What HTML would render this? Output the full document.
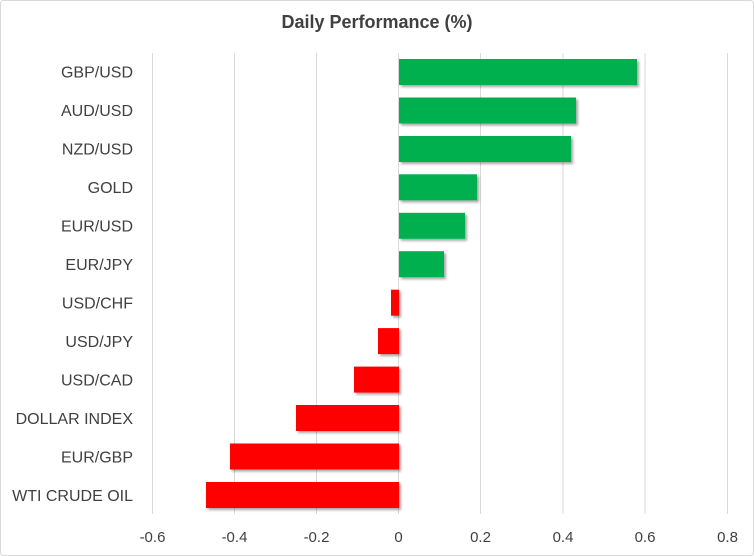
<!DOCTYPE html>
<html><head><style>
body{margin:0;background:#fff;}
svg{display:block;font-family:"Liberation Sans",sans-serif;}
</style></head><body>
<svg width="754" height="556" viewBox="0 0 754 556">
<defs><filter id="sh" x="-5%" y="-20%" width="110%" height="150%"><feDropShadow dx="2" dy="2" stdDeviation="1.2" flood-color="#000" flood-opacity="0.35"/></filter></defs>
<rect x="0.5" y="0.5" width="753" height="555" rx="3" fill="#fff" stroke="#d9d9d9"/>
<text x="377" y="28" text-anchor="middle" font-size="18" font-weight="bold" fill="#404040">Daily Performance  (%)</text>
<g stroke="#d9d9d9" stroke-width="1">
<line x1="152.5" y1="53" x2="152.5" y2="514"/><line x1="234.5" y1="53" x2="234.5" y2="514"/>
<line x1="316.5" y1="53" x2="316.5" y2="514"/><line x1="398.5" y1="53" x2="398.5" y2="514"/>
<line x1="480.5" y1="53" x2="480.5" y2="514"/><line x1="563" y1="53" x2="563" y2="514"/>
<line x1="645" y1="53" x2="645" y2="514"/><line x1="727.5" y1="53" x2="727.5" y2="514"/>
</g>
<g filter="url(#sh)">
<rect x="399" y="59" width="238" height="26" fill="#00b050"/>
<rect x="399" y="97.5" width="177" height="26" fill="#00b050"/>
<rect x="399" y="136" width="172" height="26" fill="#00b050"/>
<rect x="399" y="174.3" width="78" height="26" fill="#00b050"/>
<rect x="399" y="212.8" width="66" height="26" fill="#00b050"/>
<rect x="399" y="251.2" width="45" height="26" fill="#00b050"/>
<rect x="391" y="289.7" width="8" height="26" fill="#ff0000"/>
<rect x="378" y="328.1" width="21" height="26" fill="#ff0000"/>
<rect x="354" y="366.6" width="45" height="26" fill="#ff0000"/>
<rect x="296" y="405" width="103" height="26" fill="#ff0000"/>
<rect x="230" y="443.5" width="169" height="26" fill="#ff0000"/>
<rect x="206" y="482" width="193" height="26" fill="#ff0000"/>
</g>
<g font-size="16" fill="#404040" text-anchor="end">
<text x="133" y="77.5">GBP/USD</text><text x="133" y="116">AUD/USD</text>
<text x="133" y="154.5">NZD/USD</text><text x="133" y="193">GOLD</text>
<text x="133" y="231.5">EUR/USD</text><text x="133" y="270">EUR/JPY</text>
<text x="133" y="308.5">USD/CHF</text><text x="133" y="347">USD/JPY</text>
<text x="133" y="385.5">USD/CAD</text><text x="133" y="424">DOLLAR INDEX</text>
<text x="133" y="462.5">EUR/GBP</text><text x="133" y="501">WTI CRUDE OIL</text>
</g>
<g font-size="15" fill="#404040" text-anchor="middle">
<text x="152.5" y="542">-0.6</text><text x="234.5" y="542">-0.4</text>
<text x="316.5" y="542">-0.2</text><text x="398.5" y="542">0</text>
<text x="480.5" y="542">0.2</text><text x="563" y="542">0.4</text>
<text x="645" y="542">0.6</text><text x="727.5" y="542">0.8</text>
</g>
</svg>
</body></html>
